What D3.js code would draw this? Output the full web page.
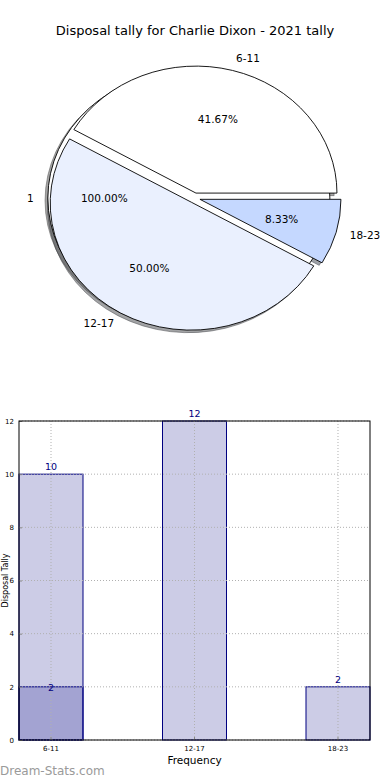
<!DOCTYPE html>
<html><head><meta charset="utf-8">
<script src="https://cdn.jsdelivr.net/npm/d3@7"></script>
<style>body{margin:0;background:#fff}svg{display:block;font-family:"DejaVu Sans",sans-serif}</style>
</head><body>
<svg id="c" width="390" height="780"></svg>
<script>
// ---- data ----
const title = "Disposal tally for Charlie Dixon - 2021 tally";
const pieCategories = ["6-11", "12-17", "18-23"];
const pieValues = [10, 12, 2];
const pieColors = ["#ffffff", "#eaf0fe", "#c5d8ff"];
const basePieCategories = ["1"];
const basePieValues = [1];
const barCategories = ["6-11", "12-17", "18-23"];
const barValues = [10, 12, 2];
const overlayCategories = ["6-11"];
const overlayValues = [2];
const yTicks = [0, 2, 4, 6, 8, 10, 12];
const xLabel = "Frequency";
const yLabel = "Disposal Tally";
const watermark = "Dream-Stats.com";

const svg = d3.select("#c");

// ---- title ----
svg.append("text").attr("x", 195).attr("y", 35).attr("text-anchor", "middle")
  .attr("font-size", 13).text(title);

// ---- pie (elliptical, matplotlib-like) ----
const cx = 194.5, cy = 198, rx = 141, ry = 127, explode = 0.04;
const pie = d3.pie().sort(null).value(d => d.v)
  .startAngle(Math.PI / 2).endAngle(Math.PI / 2 - 2 * Math.PI);
const arc = d3.arc().innerRadius(0).outerRadius(1);
const pieRoot = svg.append("g");
const shadowLayer = pieRoot.append("g");
const wedgeLayer = pieRoot.append("g");
const textLayer = pieRoot.append("g");

function drawPie(cats, vals, colors) {
  const total = d3.sum(vals);
  const arcs = pie(cats.map((c, i) => ({ c, v: vals[i], col: colors[i] })));
  arcs.forEach(a => {
    const m = (a.startAngle + a.endAngle) / 2;
    const ox = explode * Math.sin(m), oy = -explode * Math.cos(m);
    const p = arc(a);
    const col = d3.rgb(a.data.col);
    const sh = d3.rgb(col.r * 0.3, col.g * 0.3, col.b * 0.3);
    shadowLayer.append("g")
      .attr("transform", `translate(${cx},${cy}) scale(${rx},${ry}) translate(${ox - 0.02},${oy + 0.02})`)
      .append("path").attr("d", p).attr("fill", sh).attr("stroke", sh)
      .attr("fill-opacity", 0.5).attr("stroke-opacity", 0.5)
      .attr("vector-effect", "non-scaling-stroke").attr("stroke-width", 1);
    wedgeLayer.append("g")
      .attr("transform", `translate(${cx},${cy}) scale(${rx},${ry}) translate(${ox},${oy})`)
      .append("path").attr("d", p).attr("fill", a.data.col).attr("stroke", "#000")
      .attr("vector-effect", "non-scaling-stroke").attr("stroke-width", 0.9);
    const ux = Math.sin(m), uy = -Math.cos(m);
    const lx = cx + (ox + 1.1 * ux) * rx, ly = cy + (oy + 1.1 * uy) * ry;
    textLayer.append("text").attr("x", lx).attr("y", ly).attr("dy", "0.35em")
      .attr("text-anchor", lx > cx + ox * rx + 0.001 ? "start" : "end")
      .attr("font-size", 10.5).text(a.data.c);
    const px = cx + (ox + 0.6 * ux) * rx, py = cy + (oy + 0.6 * uy) * ry;
    textLayer.append("text").attr("x", px).attr("y", py).attr("dy", "0.35em")
      .attr("text-anchor", "middle").attr("font-size", 10.5)
      .text((a.data.v / total * 100).toFixed(2) + "%");
  });
}
drawPie(basePieCategories, basePieValues, ["#ffffff"]);
drawPie(pieCategories, pieValues, pieColors);

// ---- bar chart ----
const L = 19, R = 370, T = 421, B = 740;
const x = d3.scaleBand().domain(barCategories).range([L, R]).paddingInner(0.554).paddingOuter(0);
const y = d3.scaleLinear().domain([0, 12]).range([B, T]);
const bc = svg.append("g");

function bars(cats, vals) {
  bc.append("g").selectAll("rect").data(cats.map((c, i) => ({ c, v: vals[i] }))).join("rect")
    .attr("x", d => x(d.c)).attr("width", x.bandwidth())
    .attr("y", d => y(d.v)).attr("height", d => y(0) - y(d.v))
    .attr("fill", "rgb(0,0,128)").attr("fill-opacity", 0.2)
    .attr("stroke", "#000080").attr("stroke-width", 1);
}
bars(barCategories, barValues);
bars(overlayCategories, overlayValues);

// grid
const grid = bc.append("g").attr("stroke", "#b0b0b0").attr("stroke-dasharray", "1,2").attr("stroke-width", 1);
yTicks.forEach(t => grid.append("line").attr("x1", L).attr("x2", R).attr("y1", y(t)).attr("y2", y(t)));
barCategories.forEach(c => {
  const xc = x(c) + x.bandwidth() / 2;
  grid.append("line").attr("x1", xc).attr("x2", xc).attr("y1", T).attr("y2", B);
});

// value labels
barCategories.forEach((c, i) => {
  bc.append("text").attr("x", x(c) + x.bandwidth() / 2).attr("y", y(barValues[i]) - 4)
    .attr("text-anchor", "middle").attr("font-size", 9.5).attr("fill", "#000080").text(barValues[i]);
});
overlayCategories.forEach((c, i) => {
  bc.append("text").attr("x", x(c) + x.bandwidth() / 2).attr("y", y(overlayValues[i]) + 4)
    .attr("text-anchor", "middle").attr("font-size", 9.5).attr("fill", "#000080").text(overlayValues[i]);
});

// axes
const yAxis = d3.axisLeft(y).tickValues(yTicks).tickSize(-3).tickPadding(5);
bc.append("g").attr("transform", `translate(${L},0)`).call(yAxis)
  .call(g => g.select(".domain").remove())
  .call(g => g.selectAll("text").attr("font-size", 7).attr("font-family", "DejaVu Sans").attr("fill", "#000"))
  .call(g => g.selectAll("line").attr("stroke", "#888"));
const xAxis = d3.axisBottom(x).tickSize(-3).tickPadding(6);
bc.append("g").attr("transform", `translate(0,${B})`).call(xAxis)
  .call(g => g.select(".domain").remove())
  .call(g => g.selectAll("text").attr("font-size", 7).attr("font-family", "DejaVu Sans").attr("fill", "#000"))
  .call(g => g.selectAll("line").attr("stroke", "#888"));

bc.append("rect").attr("x", L).attr("y", T).attr("width", R - L).attr("height", B - T)
  .attr("fill", "none").attr("stroke", "#000").attr("stroke-width", 1);

svg.append("text").attr("x", (L + R) / 2).attr("y", 764).attr("text-anchor", "middle")
  .attr("font-size", 10.5).text(xLabel);
svg.append("text").attr("transform", `translate(8,${(T + B) / 2}) rotate(-90)`)
  .attr("text-anchor", "middle").attr("font-size", 8).text(yLabel);

svg.append("text").attr("x", 0).attr("y", 775).attr("font-size", 12)
  .attr("fill", "#9a9a9a").text(watermark);
</script>
</body></html>
